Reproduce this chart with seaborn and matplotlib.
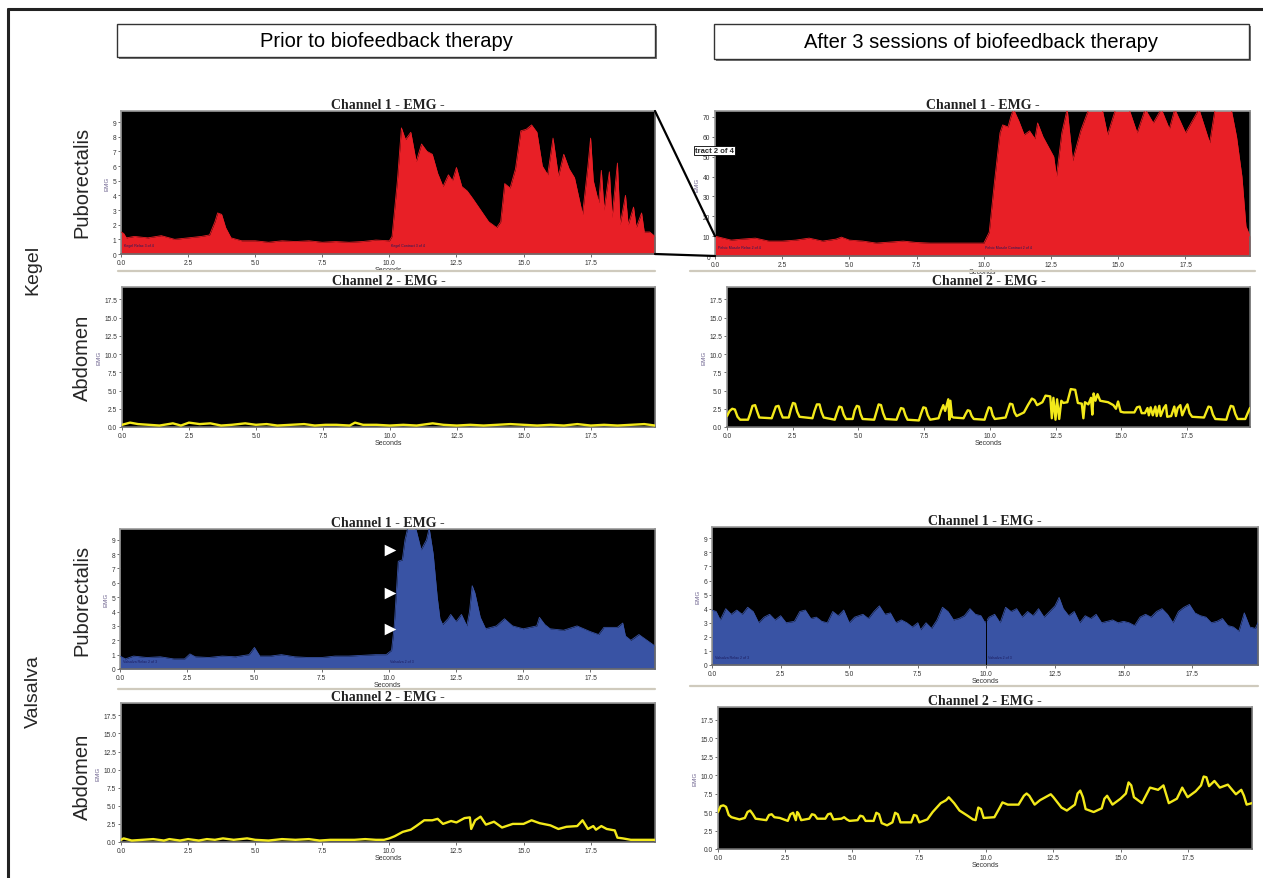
import numpy as np
import pandas as pd
import matplotlib
matplotlib.use("Agg")
import matplotlib.pyplot as plt
from matplotlib.patches import Rectangle, ConnectionPatch
from matplotlib.lines import Line2D
import seaborn as sns

sns.set_style("white")
plt.rcParams['font.family'] = ['Liberation Sans', 'DejaVu Sans']

# ---------------- data ----------------
col_titles = ["Prior to biofeedback therapy", "After 3 sessions of biofeedback therapy"]
row_groups = ["Kegel", "Valsalva"]
muscles = ["Puborectalis", "Abdomen"]
channel_titles = ["Channel 1 - EMG -", "Channel 2 - EMG -"]
x_ticks = [0.0, 2.5, 5.0, 7.5, 10.0, 12.5, 15.0, 17.5]
ch1_ticks_small = [0, 1, 2, 3, 4, 5, 6, 7, 8, 9]
ch1_ticks_large = [0, 10, 20, 30, 40, 50, 60, 70]
ch2_ticks = [0.0, 2.5, 5.0, 7.5, 10.0, 12.5, 15.0, 17.5]

# Kegel, prior, channel 1 (puborectalis)
kp1_t = [0.0, 0.1, 0.2, 0.5, 1.0, 1.5, 2.0, 2.5, 3.0, 3.3, 3.5, 3.6, 3.75, 3.9, 4.1, 4.5,
         5.0, 5.5, 6.0, 6.5, 7.0, 7.5, 8.0, 8.5, 9.0, 9.5, 10.0, 10.1, 10.3, 10.45, 10.6,
         10.8, 11.0, 11.2, 11.4, 11.6, 11.8, 12.0, 12.2, 12.35, 12.5, 12.7, 12.9, 13.1,
         13.4, 13.7, 14.0, 14.15, 14.3, 14.5, 14.7, 14.9, 15.1, 15.3, 15.5, 15.7, 15.9,
         16.1, 16.3, 16.5, 16.7, 16.9, 17.2, 17.4, 17.5, 17.6, 17.8, 17.9, 18.0, 18.2,
         18.3, 18.5, 18.6, 18.8, 18.9, 19.1, 19.2, 19.4, 19.5, 19.7, 19.9]
kp1_v = [1.5, 1.4, 1.1, 1.2, 1.1, 1.25, 1.0, 1.1, 1.2, 1.3, 2.2, 2.8, 2.7, 1.8, 1.1, 0.9,
         0.9, 0.8, 0.9, 0.85, 0.9, 0.8, 0.85, 0.8, 0.85, 0.95, 0.9, 1.2, 5.0, 8.6, 7.8,
         8.3, 6.3, 7.5, 7.0, 6.8, 5.5, 4.6, 5.4, 5.0, 5.9, 4.6, 4.3, 3.8,
         3.0, 2.2, 1.8, 2.2, 4.8, 4.5, 5.8, 8.4, 8.5, 8.8, 8.3, 6.0, 5.4,
         7.9, 5.3, 6.8, 5.8, 5.2, 2.7, 6.0, 7.9, 5.0, 3.5, 5.7, 3.0, 5.6,
         2.5, 6.2, 2.0, 4.0, 2.0, 3.2, 1.8, 2.8, 1.5, 1.5, 1.2]

# Kegel, after, channel 1 (puborectalis)
ka1_t = [0.0, 0.3, 0.6, 1.0, 1.5, 2.0, 2.5, 3.0, 3.5, 4.0, 4.5, 4.7, 5.0, 5.5, 6.0, 6.5,
         7.0, 7.5, 8.0, 8.5, 9.0, 9.5, 10.0, 10.2, 10.4, 10.6, 10.7, 10.9, 11.0, 11.1,
         11.3, 11.5, 11.7, 11.9, 12.0, 12.2, 12.4, 12.6, 12.7, 12.9, 13.1, 13.3, 13.6,
         13.9, 14.4, 14.6, 14.9, 15.4, 15.7, 16.0, 16.3, 16.6, 16.9, 17.1, 17.5, 18.0,
         18.4, 18.6, 19.0, 19.2, 19.4, 19.6, 19.75, 19.9]
ka1_v = [10, 9, 8, 8.5, 9, 7.5, 7.5, 8, 9, 7.5, 8.5, 9.5, 8.0, 7.5, 6.5, 7,
         7.5, 6.8, 6.5, 6.5, 6.5, 6.5, 6.5, 12, 38, 62, 66, 65, 70, 74,
         68, 61, 63, 59, 67, 60, 55, 50, 40, 62, 74, 48, 63,
         74, 74, 61, 74, 74, 62, 74, 67, 74, 64, 74, 62, 74,
         57, 74, 74, 74, 60, 40, 15, 10]

# Valsalva, prior, channel 1 (puborectalis)
vp1_t = [0.0, 0.2, 0.5, 1.0, 1.5, 2.0, 2.4, 2.6, 2.8, 3.3, 3.8, 4.3, 4.8, 5.0, 5.2, 5.6,
         6.0, 6.5, 7.0, 7.5, 8.0, 8.5, 9.0, 9.5, 9.9, 10.1, 10.2, 10.35, 10.5, 10.6, 10.7,
         11.0, 11.2, 11.4, 11.5, 11.65, 11.8, 11.9, 12.0, 12.2, 12.3, 12.5, 12.7, 12.9,
         13.0, 13.1, 13.2, 13.4, 13.6, 14.0, 14.3, 14.6, 15.0, 15.5, 15.6, 15.8, 16.0,
         16.5, 17.0, 17.5, 17.8, 18.0, 18.5, 18.7, 18.8, 19.0, 19.3, 19.6, 19.9]
vp1_v = [0.9, 0.7, 0.9, 0.8, 0.85, 0.7, 0.7, 1.05, 0.85, 0.8, 0.9, 0.85, 1.0, 1.5, 0.9, 0.9,
         1.0, 0.85, 0.8, 0.8, 0.9, 0.9, 0.95, 1.0, 1.0, 1.3, 3.0, 7.5, 7.6, 9.0, 9.8,
         9.8, 8.3, 9.0, 9.8, 8.0, 5.0, 3.5, 3.1, 3.5, 3.8, 3.3, 3.8, 3.0,
         4.0, 5.8, 5.3, 3.6, 2.8, 3.0, 3.5, 3.0, 2.8, 3.0, 3.6, 3.1, 2.8,
         2.7, 3.0, 2.6, 2.4, 2.9, 2.9, 3.2, 2.3, 2.0, 2.4, 2.0, 1.6]

# Valsalva, after, channel 1 (puborectalis)
va1_t = [0.0, 0.15, 0.3, 0.5, 0.7, 0.9, 1.1, 1.3, 1.5, 1.7, 1.9, 2.1, 2.3, 2.5, 2.7, 3.0,
         3.2, 3.4, 3.6, 3.8, 4.0, 4.2, 4.4, 4.6, 4.8, 5.0, 5.2, 5.5, 5.7, 5.9, 6.1, 6.3,
         6.5, 6.7, 6.9, 7.1, 7.3, 7.5, 7.6, 7.8, 8.0, 8.2, 8.4, 8.6, 8.8, 9.0, 9.2, 9.4,
         9.6, 9.8, 9.95, 10.1, 10.3, 10.5, 10.7, 10.9, 11.1, 11.3, 11.5, 11.7, 11.9, 12.1,
         12.3, 12.5, 12.65, 12.8, 13.0, 13.2, 13.4, 13.6, 13.8, 14.0, 14.2, 14.4, 14.6,
         14.8, 15.0, 15.2, 15.4, 15.6, 15.8, 16.0, 16.2, 16.4, 16.6, 16.8, 17.0, 17.2,
         17.4, 17.6, 17.8, 18.0, 18.2, 18.4, 18.6, 18.8, 19.0, 19.2, 19.4, 19.6, 19.8, 19.9]
va1_v = [3.9, 3.8, 3.2, 4.0, 3.6, 3.9, 3.6, 4.1, 3.8, 3.0, 3.4, 3.6, 3.2, 3.5, 3.0, 3.1,
         3.8, 3.9, 3.3, 3.4, 3.1, 3.0, 3.8, 3.5, 3.9, 3.0, 3.4, 3.6, 3.3, 3.8, 4.2, 3.6,
         3.7, 3.0, 3.2, 3.0, 2.7, 3.0, 2.5, 3.0, 2.6, 3.2, 4.1, 3.8, 3.2, 3.3, 3.5, 4.0,
         3.6, 3.5, 3.0, 3.4, 3.6, 3.0, 4.1, 3.8, 4.0, 3.4, 3.8, 3.5, 4.0, 3.4,
         3.8, 4.2, 4.8, 4.0, 3.5, 3.8, 3.0, 3.5, 3.3, 3.6, 3.0, 3.1, 3.2,
         3.0, 3.1, 3.0, 2.8, 3.4, 3.6, 3.4, 3.8, 4.0, 3.6, 3.0, 3.8, 4.1,
         4.3, 3.7, 3.5, 3.4, 3.0, 3.1, 3.3, 2.8, 2.7, 2.4, 3.7, 2.7, 2.6, 3.0]

# Kegel, prior, channel 2 (abdomen)
kp2_t = [0.0, 0.3, 0.6, 1.0, 1.4, 1.9, 2.2, 2.5, 2.9, 3.3, 3.7, 4.1, 4.6, 5.0, 5.4, 5.8,
         6.3, 6.8, 7.2, 7.6, 8.0, 8.5, 8.7, 9.0, 9.5, 10.0, 10.5, 11.0, 11.6, 12.0, 12.5,
         13.0, 13.5, 14.0, 14.5, 15.0, 15.5, 16.0, 16.5, 17.0, 17.5, 18.0, 18.5, 19.0,
         19.5, 19.9]
kp2_v = [0.3, 0.6, 0.4, 0.3, 0.2, 0.5, 0.2, 0.6, 0.4, 0.5, 0.2, 0.3, 0.5, 0.3, 0.4, 0.2,
         0.3, 0.4, 0.2, 0.3, 0.3, 0.2, 0.6, 0.3, 0.3, 0.2, 0.3, 0.2, 0.5, 0.3, 0.2,
         0.3, 0.2, 0.3, 0.4, 0.3, 0.2, 0.3, 0.2, 0.4, 0.2, 0.3, 0.2, 0.3,
         0.4, 0.2]

# Kegel, after, channel 2 (abdomen)
ka2_t = [0.0, 0.1, 0.2, 0.3, 0.4, 0.5, 0.8,
         0.88, 0.97, 1.07, 1.15, 1.23, 1.7,
         1.78, 1.86, 1.96, 2.04, 2.12, 2.35,
         2.43, 2.51, 2.59, 2.67, 2.76, 3.25,
         3.33, 3.42, 3.52, 3.6, 3.68, 4.1,
         4.18, 4.27, 4.36, 4.44, 4.53, 4.78,
         4.86, 4.94, 5.02, 5.08, 5.16, 5.6,
         5.68, 5.77, 5.86, 5.94, 6.03, 6.45,
         6.53, 6.62, 6.71, 6.79, 6.87, 7.3,
         7.38, 7.47, 7.56, 7.64, 7.73, 8.05,
         8.14, 8.23, 8.3, 8.42, 8.46, 8.5, 8.56, 8.62, 9.0,
         9.08, 9.16, 9.24, 9.31, 9.39, 9.8,
         9.88, 9.96, 10.04, 10.11, 10.19, 10.6,
         10.68, 10.77, 10.86, 10.94, 11.02, 11.3,
         11.45, 11.6, 11.7, 11.8, 12.0, 12.12, 12.3,
         12.36, 12.42, 12.5, 12.56, 12.64, 12.72, 12.8, 12.95,
         13.08, 13.25, 13.35, 13.5, 13.56, 13.62, 13.75,
         13.85, 13.9, 13.95, 14.02, 14.1, 14.2, 14.5,
         14.7, 14.8, 14.88, 14.98, 15.1, 15.5,
         15.6, 15.7, 15.78, 15.9, 16.0, 16.05, 16.12, 16.2,
         16.3, 16.35, 16.45, 16.5, 16.62, 16.7, 16.75, 16.9,
         17.02, 17.08, 17.15, 17.25, 17.32, 17.45, 17.52, 17.6,
         17.7, 18.15, 18.23, 18.32, 18.41, 18.49, 18.58, 19.0,
         19.08, 19.17, 19.26, 19.34, 19.43, 19.72, 19.8, 19.9]
ka2_v = [1.5, 2.2, 2.5, 2.4, 1.4, 1.0, 1.0,
         1.8, 2.9, 3.0, 2.1, 1.3, 1.2,
         2.0, 2.8, 2.9, 2.0, 1.3, 1.3,
         2.4, 3.3, 3.2, 2.1, 1.4, 1.2,
         2.2, 3.1, 3.1, 2.0, 1.3, 1.0,
         1.9, 2.8, 2.7, 1.7, 1.1, 1.1,
         2.3, 2.9, 2.8, 1.8, 1.1, 1.0,
         2.0, 3.1, 3.0, 1.9, 1.1, 1.0,
         1.8, 2.6, 2.5, 1.6, 1.0, 0.9,
         1.8, 2.7, 2.6, 1.6, 1.0, 1.2,
         2.2, 3.0, 2.2, 3.8, 1.0, 3.6, 1.4, 1.3, 1.2,
         1.8, 2.3, 2.2, 1.5, 1.1, 1.0,
         1.9, 2.7, 2.6, 1.6, 1.1, 1.3,
         2.2, 3.2, 3.1, 2.0, 1.5, 2.0,
         3.0, 3.9, 3.7, 3.0, 3.4, 4.3, 4.2,
         1.2, 4.0, 1.0, 3.8, 1.1, 3.6, 3.3, 3.4,
         5.2, 5.1, 3.3, 3.2, 1.2, 3.4, 3.1,
         4.0, 1.7, 4.6, 3.6, 4.5, 3.6, 3.4,
         3.0, 2.5, 3.5, 2.1, 2.0, 2.0,
         2.7, 2.8, 1.9, 1.9, 2.6, 1.6, 2.7, 1.6,
         2.8, 1.5, 2.9, 1.5, 2.6, 3.0, 1.4, 1.5,
         2.8, 1.5, 2.6, 3.0, 1.6, 2.7, 3.1, 1.9,
         1.4, 1.3, 2.0, 2.8, 2.7, 1.7, 1.1, 1.0,
         2.0, 2.9, 2.8, 1.8, 1.1, 1.1, 1.8, 2.6]

# Valsalva, prior, channel 2 (abdomen)
vp2_t = [0.0, 0.1, 0.4, 0.8, 1.2, 1.6, 1.8, 2.2, 2.5, 2.9, 3.2, 3.5, 3.8, 4.2, 4.7,
         5.0, 5.5, 6.0, 6.5, 7.0, 7.4, 7.8, 8.2, 8.7, 9.1, 9.5, 9.8, 10.0, 10.2, 10.5,
         10.8, 11.0, 11.3, 11.6, 11.8, 12.0, 12.3, 12.5, 12.8, 13.0, 13.05, 13.2, 13.4,
         13.6, 13.9, 14.2, 14.6, 15.0, 15.3, 15.6, 16.0, 16.3, 16.6, 17.0, 17.2, 17.4,
         17.6, 17.7, 17.9, 18.1, 18.4, 18.5, 18.7, 19.0, 19.5, 19.9]
vp2_v = [0.3, 0.5, 0.2, 0.3, 0.4, 0.2, 0.4, 0.2, 0.4, 0.2, 0.4, 0.3, 0.5, 0.3, 0.5,
         0.3, 0.2, 0.4, 0.3, 0.4, 0.2, 0.3, 0.3, 0.3, 0.4, 0.3, 0.3, 0.5, 0.8, 1.4,
         1.7, 2.2, 3.0, 3.0, 3.2, 2.5, 2.9, 2.7, 3.3, 3.4, 1.8, 3.0, 3.5,
         2.4, 2.8, 2.0, 2.5, 2.5, 3.0, 2.6, 2.3, 1.8, 2.1, 2.2, 3.0, 1.8,
         2.2, 1.7, 2.2, 1.8, 1.6, 0.6, 0.5, 0.3, 0.3, 0.3]

# Valsalva, after, channel 2 (abdomen)
va2_t = [0.0, 0.1, 0.2, 0.3, 0.4, 0.5, 0.8, 1.0, 1.1, 1.2, 1.3, 1.4, 1.8, 1.9, 2.0, 2.1,
         2.3, 2.6, 2.7, 2.8, 2.9, 2.95, 3.0, 3.1, 3.4, 3.5, 3.6, 3.7, 4.0, 4.1, 4.2, 4.3,
         4.6, 4.7, 4.8, 4.9, 5.2, 5.3, 5.4, 5.5, 5.8, 5.9, 6.0, 6.1, 6.3, 6.5, 6.6, 6.7,
         6.8, 7.2, 7.3, 7.4, 7.5, 7.8, 8.0, 8.3, 8.5, 8.6, 8.7, 8.8, 9.0, 9.3, 9.5, 9.6,
         9.7, 9.8, 9.9, 10.3, 10.5, 10.6, 10.8, 11.2, 11.4, 11.5, 11.6, 11.8, 12.0, 12.2,
         12.4, 12.5, 12.8, 13.0, 13.3, 13.4, 13.5, 13.6, 13.7, 14.0, 14.3, 14.4, 14.5,
         14.7, 15.0, 15.2, 15.3, 15.4, 15.5, 15.8, 16.0, 16.1, 16.4, 16.6, 16.8, 17.1,
         17.3, 17.5, 17.8, 18.0, 18.1, 18.2, 18.3, 18.5, 18.7, 19.0, 19.3, 19.5, 19.6,
         19.7, 19.9]
va2_v = [5.0, 5.8, 5.9, 5.7, 4.6, 4.3, 4.0, 4.2, 5.0, 5.2, 4.7, 4.1, 3.9, 4.6, 4.7, 4.3,
         4.2, 3.8, 4.7, 4.9, 3.9, 5.0, 4.8, 3.9, 4.1, 4.7, 4.6, 4.1, 4.1, 4.7, 4.8, 4.0,
         4.1, 4.3, 4.0, 3.8, 3.9, 4.5, 4.4, 3.8, 3.8, 4.9, 4.7, 3.5, 3.2, 3.6, 4.9, 4.7,
         3.6, 3.6, 4.6, 4.5, 3.6, 4.0, 5.0, 6.2, 6.6, 7.0, 6.6, 6.2, 5.2, 4.5, 4.0, 3.9,
         5.6, 5.4, 4.2, 4.3, 5.6, 6.3, 6.0, 6.0, 7.2, 7.5, 7.2, 6.0, 6.6, 7.0,
         7.4, 7.0, 5.6, 5.2, 6.0, 7.5, 7.9, 7.0, 5.4, 5.0, 5.5, 6.8, 7.2,
         6.0, 6.8, 7.5, 9.0, 8.6, 7.0, 6.2, 7.6, 8.3, 8.0, 8.6, 6.2, 6.8,
         8.3, 7.0, 7.8, 8.6, 9.8, 9.7, 8.5, 9.2, 8.3, 8.7, 7.4, 8.0, 7.2,
         6.0, 6.2]

# event marker labels (software annotations)
kp_events = ["Kegel Relax 3 of 4", "Kegel Contract 3 of 4"]
ka_events = ["Pelvic Muscle Relax 2 of 4", "Pelvic Muscle Contract 2 of 4"]
vp_events = ["Valsalva Relax 2 of 3", "Valsalva 2 of 3"]
va_events = ["Valsalva Relax 2 of 3", "Valsalva 2 of 3"]
event_times = [0.1, 10.05]
arrow_t = [10.05, 10.05, 10.05]
arrow_y = [8.3, 5.3, 2.8]
zoom_label = "tract 2 of 4"

# ---------------- styling ----------------
W, H = 1263, 879
fig = plt.figure(figsize=(W / 100, H / 100), dpi=100)
fig.patch.set_facecolor("white")

RED = "#e81f26"
BLUE = "#3953a4"
YELLOW = "#f3e91a"


def px_axes(x0, y0, x1, y1):
    return fig.add_axes([x0 / W, 1 - y1 / H, (x1 - x0) / W, (y1 - y0) / H])


def style_axes(ax, yticks, ymax, ytickfmt, title):
    ax.set_facecolor("black")
    ax.set_xlim(0, 19.9)
    ax.set_ylim(0, ymax)
    ax.set_xticks(x_ticks)
    ax.set_xticklabels([f"{v:.1f}" for v in x_ticks])
    ax.set_yticks(yticks)
    ax.set_yticklabels([ytickfmt.format(v) for v in yticks])
    ax.tick_params(axis="both", length=2.5, width=0.6, color="#555555",
                   labelsize=4.8, labelcolor="#333333", pad=1, direction="out")
    ax.tick_params(axis="x", bottom=True)
    ax.tick_params(axis="y", left=True)
    for name, s in ax.spines.items():
        s.set_color("#6b6b6b" if name in ("bottom", "right") else "#9a9a9a")
        s.set_linewidth(1.2)
    ax.set_xlabel("Seconds", fontsize=5, color="#333333", labelpad=0.3)
    ax.set_ylabel("EMG", fontsize=4.5, color="#6a5f8c", labelpad=2)
    ax.set_title(title, fontsize=10, fontweight="bold", family="Liberation Serif",
                 color="#222222", pad=2.5)


def area_panel(ax, t, v, color):
    df = pd.DataFrame({"t": t, "v": v})
    ax.fill_between(df["t"], 0, df["v"], color=color, linewidth=0, zorder=2)
    sns.lineplot(data=df, x="t", y="v", ax=ax, color=color, linewidth=0.6,
                 sort=False, estimator=None, zorder=3)


def line_panel(ax, t, v):
    df = pd.DataFrame({"t": t, "v": v})
    sns.lineplot(data=df, x="t", y="v", ax=ax, color=YELLOW, linewidth=1.7,
                 sort=False, estimator=None, zorder=3)


def events(ax, labels, y):
    for tt, lab in zip(event_times, labels):
        ax.text(tt, y, lab, fontsize=2.6, color="#1b1b5e", va="bottom", ha="left",
                zorder=5)


# Panels
axA = px_axes(121, 112, 655, 255)
area_panel(axA, kp1_t, kp1_v, RED)
style_axes(axA, ch1_ticks_small, 9.75, "{:d}", channel_titles[0])
events(axA, kp_events, 0.45)

axB = px_axes(122, 288, 655, 428)
line_panel(axB, kp2_t, kp2_v)
style_axes(axB, ch2_ticks, 19.2, "{:.1f}", channel_titles[1])

axC = px_axes(715, 112, 1250, 257)
area_panel(axC, ka1_t, ka1_v, RED)
style_axes(axC, ch1_ticks_large, 73, "{:d}", channel_titles[0])
events(axC, ka_events, 3.5)

axD = px_axes(727, 288, 1250, 428)
line_panel(axD, ka2_t, ka2_v)
style_axes(axD, ch2_ticks, 19.2, "{:.1f}", channel_titles[1])

axE = px_axes(120, 530, 655, 670)
area_panel(axE, vp1_t, vp1_v, BLUE)
style_axes(axE, ch1_ticks_small, 9.75, "{:d}", channel_titles[0])
events(axE, vp_events, 0.45)
axE.scatter(arrow_t, arrow_y, marker=">", s=70, color="white", zorder=6,
            clip_on=False, linewidths=0)

axF = px_axes(121, 704, 655, 843)
line_panel(axF, vp2_t, vp2_v)
style_axes(axF, ch2_ticks, 19.2, "{:.1f}", channel_titles[1])

axG = px_axes(712, 528, 1258, 666)
area_panel(axG, va1_t, va1_v, BLUE)
style_axes(axG, ch1_ticks_small, 9.8, "{:d}", channel_titles[0])
axG.axvline(event_times[1] - 0.05, ymin=0, ymax=3.3 / 9.8, color="black", lw=0.7, zorder=4)
events(axG, va_events, 0.45)

axH = px_axes(718, 708, 1252, 850)
line_panel(axH, va2_t, va2_v)
style_axes(axH, ch2_ticks, 19.2, "{:.1f}", channel_titles[1])

# zoom connector lines from A to C
for (xa, ya), yc in [((1, 1), 10), ((1, 0), 0)]:
    con = ConnectionPatch(xyA=(xa, ya), coordsA=axA.transAxes, xyB=(0, yc),
                          coordsB=axC.transData, color="black", lw=1.6, zorder=10)
    fig.add_artist(con)
axC.text(-0.75, 53, zoom_label, fontsize=5.5, fontweight="bold", ha="left", va="center",
         clip_on=False, zorder=12,
         bbox=dict(boxstyle="square,pad=0.15", fc="white", ec="black", lw=0.6))

# separator lines
for (x0, x1, y) in [(118, 655, 272), (690, 1255, 272), (118, 655, 690), (690, 1258, 687)]:
    fig.add_artist(Line2D([x0 / W, x1 / W], [1 - y / H, 1 - y / H], color="#cfcabd", lw=1.6))

# header boxes
for (x0, y0, x1, y1), txt in zip([(117, 25, 655, 58), (714, 25, 1249, 60)], col_titles):
    fig.add_artist(Rectangle((x0 / W + 0.0012, 1 - (y1 + 2) / H), (x1 - x0) / W, (y1 - y0) / H,
                             transform=fig.transFigure, fc="#777777", ec="none"))
    fig.add_artist(Rectangle((x0 / W, 1 - y1 / H), (x1 - x0) / W, (y1 - y0) / H,
                             transform=fig.transFigure, fc="white", ec="#333333", lw=1.0))
    fig.text((x0 + x1) / 2 / W, 1 - (y0 + y1) / 2 / H, txt, ha="center", va="center",
             fontsize=14.5, color="black")

# row labels
for y, lab in [(270, row_groups[0]), (692, row_groups[1])]:
    fig.text(33 / W, 1 - y / H, lab, rotation=90, ha="center", va="center", fontsize=14)
for y, lab in [(182, muscles[0]), (358, muscles[1]), (600, muscles[0]), (777, muscles[1])]:
    fig.text(82 / W, 1 - y / H, lab, rotation=90, ha="center", va="center", fontsize=14.5)

# outer frame
fig.add_artist(Line2D([8 / W, 1.0], [1 - 10 / H, 1 - 10 / H], color="#222222", lw=2.2))
fig.add_artist(Line2D([8 / W, 8 / W], [0.0, 1 - 10 / H], color="#222222", lw=2.2))

fig.savefig("out.png", dpi=100, facecolor="white")
